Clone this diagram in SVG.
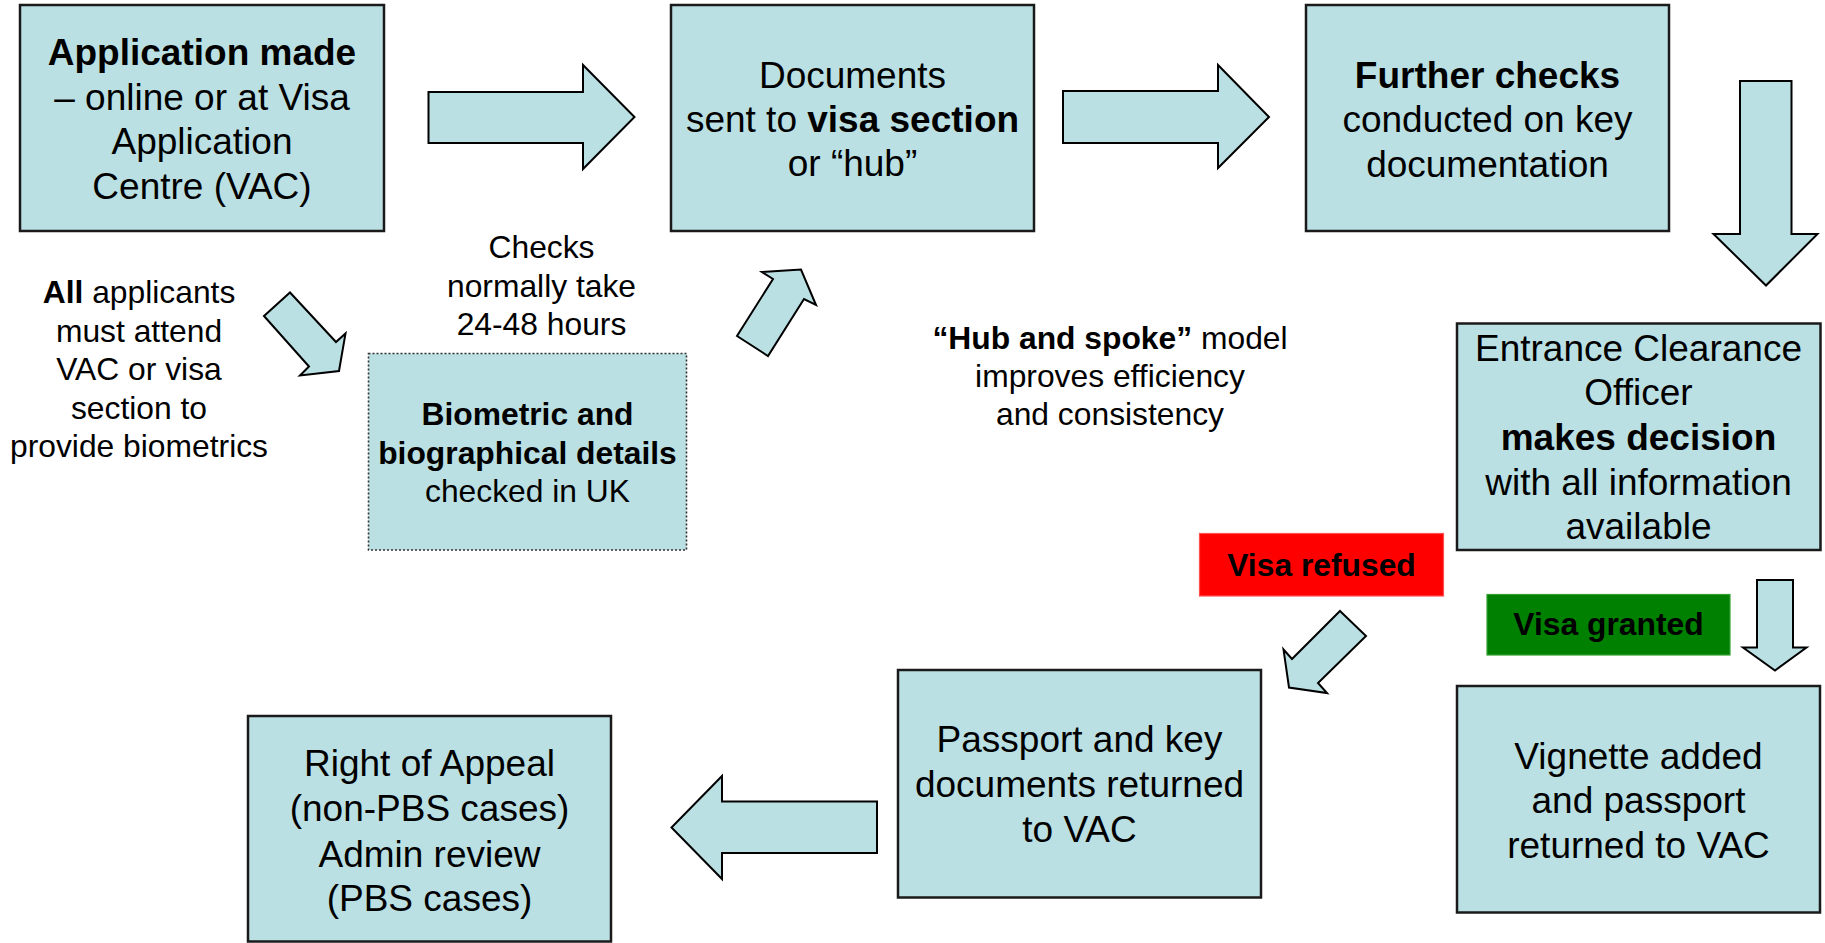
<svg xmlns="http://www.w3.org/2000/svg" width="1825" height="943" viewBox="0 0 1825 943">
<style>
.box{fill:#BBE0E3;stroke:#1a1a1a;stroke-width:2.5}
.dot{fill:#BBE0E3;stroke:#333;stroke-width:1.6;stroke-dasharray:2 2}
.arr{fill:#BBE0E3;stroke:#000;stroke-width:2;stroke-linejoin:miter}
text{font-family:"Liberation Sans",Arial,sans-serif;fill:#000;text-anchor:middle}
.L{font-size:37px}
.S{font-size:31.8px}
.b{font-weight:bold}
</style>
<rect width="1825" height="943" fill="#fff"/>
<g id="connectors">
<polygon class="arr" points="428.5,92 583,92 583,65 634.5,117 583,169 583,143 428.5,143"/>
<polygon class="arr" points="1063,91 1218,91 1218,65 1269,117 1218,168 1218,143 1063,143"/>
<polygon class="arr" points="1740,81 1791.5,81 1791.5,234 1817.5,234 1766,285.5 1713.5,234 1740,234"/>
<polygon class="arr" points="1757,580 1793,580 1793,647.5 1806.5,647.5 1775,670.5 1743,647.5 1757,647.5"/>
<polygon class="arr" points="877,801.5 722,801.5 722,776 671.5,827.5 722,879 722,853 877,853"/>
<polygon class="arr" points="264,316 290,292.5 336,342 345.5,333.5 339,371 300,375.5 309,366.5"/>
<polygon class="arr" points="737,336 768,356 804,299 816,305 801,269.5 762,272 773,279"/>
<polygon class="arr" points="1340,611 1366,636 1318,683 1327,693 1289,687.5 1283.5,649.5 1292,659"/>
</g>
<g id="n_application">
<rect class="box" x="20" y="5" width="364" height="226"/>
<text class="L" x="202" y="65"><tspan class="b">Application made</tspan></text>
<text class="L" x="202" y="109.5">– online or at Visa</text>
<text class="L" x="202" y="154">Application</text>
<text class="L" x="202" y="198.5">Centre (VAC)</text>
</g>
<g id="n_documents">
<rect class="box" x="671" y="5" width="363" height="226"/>
<text class="L" x="852.5" y="88">Documents</text>
<text class="L" x="852.5" y="132">sent to <tspan class="b">visa section</tspan></text>
<text class="L" x="852.5" y="176">or “hub”</text>
</g>
<g id="n_further">
<rect class="box" x="1306" y="5" width="363" height="226"/>
<text class="L b" x="1487.5" y="88">Further checks</text>
<text class="L" x="1487.5" y="132">conducted on key</text>
<text class="L" x="1487.5" y="177">documentation</text>
</g>
<g id="n_all_applicants">
<text class="S" x="139" y="303"><tspan class="b">All</tspan> applicants</text>
<text class="S" x="139" y="341.5">must attend</text>
<text class="S" x="139" y="380">VAC or visa</text>
<text class="S" x="139" y="418.5">section to</text>
<text class="S" x="139" y="457">provide biometrics</text>
</g>
<g id="n_checks_time">
<text class="S" x="541.5" y="258">Checks</text>
<text class="S" x="541.5" y="296.5">normally take</text>
<text class="S" x="541.5" y="335">24-48 hours</text>
</g>
<g id="n_biometric">
<rect class="dot" x="368.5" y="353.5" width="318" height="196.5"/>
<text class="S b" x="527.5" y="425">Biometric and</text>
<text class="S b" x="527.5" y="464">biographical details</text>
<text class="S" x="527.5" y="501.5">checked in UK</text>
</g>
<g id="n_hub">
<text class="S" x="1110" y="348.5"><tspan class="b">“Hub and spoke”</tspan> model</text>
<text class="S" x="1110" y="387">improves efficiency</text>
<text class="S" x="1110" y="425">and consistency</text>
</g>
<g id="n_eco">
<rect class="box" x="1457" y="323.5" width="363.5" height="226.5"/>
<text class="L" x="1638.5" y="361">Entrance Clearance</text>
<text class="L" x="1638.5" y="405">Officer</text>
<text class="L b" x="1638.5" y="449.5">makes decision</text>
<text class="L" x="1638.5" y="494.5">with all information</text>
<text class="L" x="1638.5" y="539">available</text>
</g>
<g id="n_refused">
<rect x="1199.5" y="533.5" width="244" height="62.5" fill="#FF0000" stroke="#ff5050" stroke-width="1.2"/>
<text class="S b" x="1321.5" y="575.5">Visa refused</text>
</g>
<g id="n_granted">
<rect x="1487" y="594.5" width="243" height="60.5" fill="#008000" stroke="#33a033" stroke-width="1.2"/>
<text class="S b" x="1608.5" y="635">Visa granted</text>
</g>
<g id="n_passport">
<rect class="box" x="898" y="670" width="363" height="227.5"/>
<text class="L" x="1079.5" y="751.5">Passport and key</text>
<text class="L" x="1079.5" y="796.5">documents returned</text>
<text class="L" x="1079.5" y="841.5">to VAC</text>
</g>
<g id="n_vignette">
<rect class="box" x="1457" y="686" width="363" height="226.5"/>
<text class="L" x="1638.5" y="769">Vignette added</text>
<text class="L" x="1638.5" y="813">and passport</text>
<text class="L" x="1638.5" y="858">returned to VAC</text>
</g>
<g id="n_appeal">
<rect class="box" x="248" y="716" width="363" height="225.5"/>
<text class="L" x="429.5" y="776">Right of Appeal</text>
<text class="L" x="429.5" y="821">(non-PBS cases)</text>
<text class="L" x="429.5" y="866.5">Admin review</text>
<text class="L" x="429.5" y="911">(PBS cases)</text>
</g>
</svg>
